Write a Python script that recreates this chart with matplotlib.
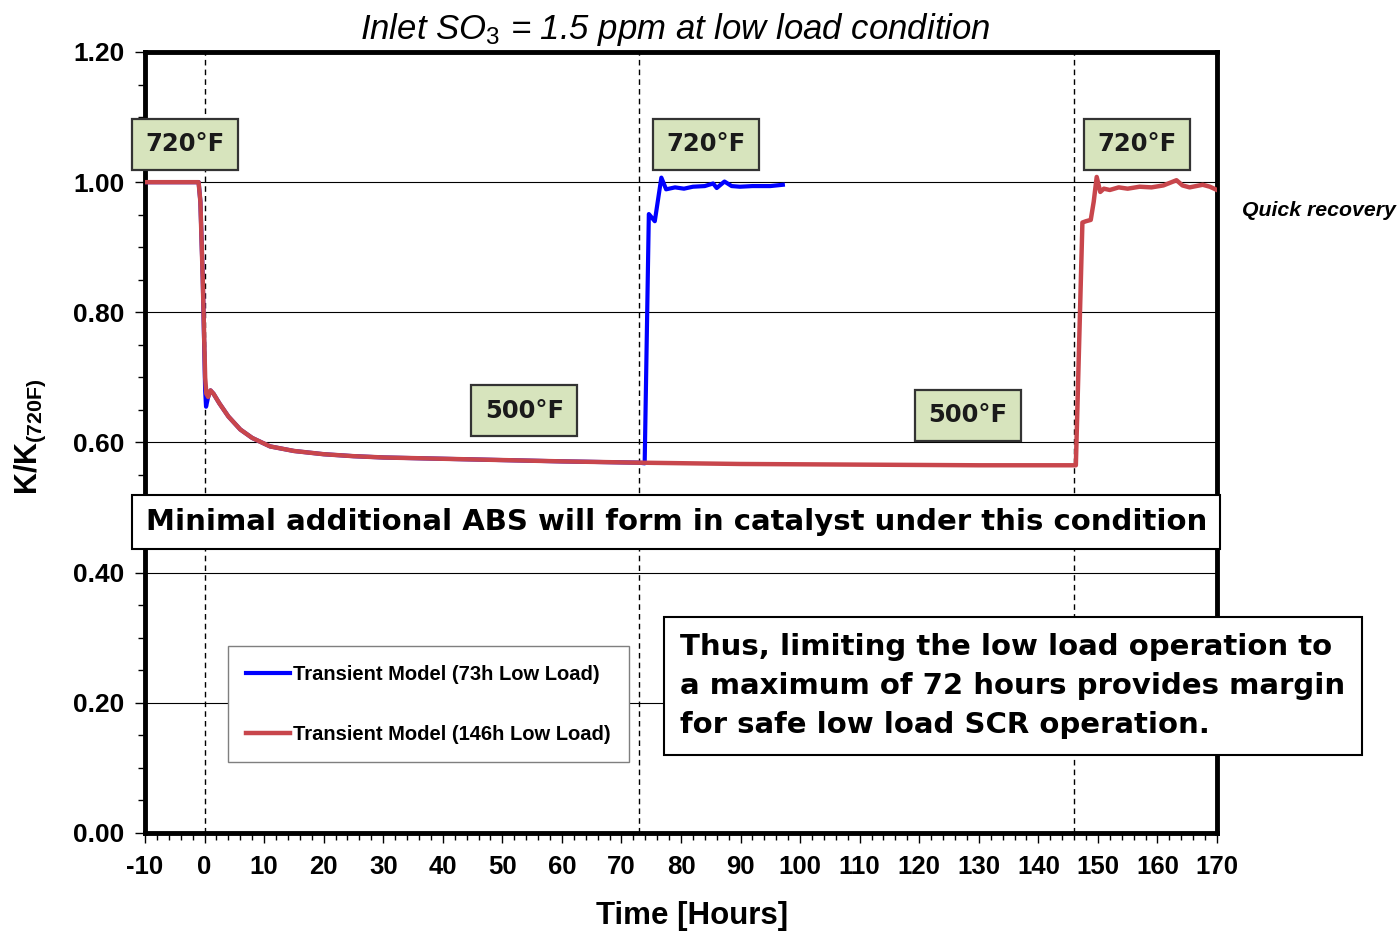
import matplotlib

matplotlib.use("Agg")
import matplotlib.pyplot as plt
from matplotlib import font_manager
from matplotlib.ticker import MultipleLocator, FormatStrFormatter

# transient model runs, K/K(720F) versus time
t_146h = [-10, -1.0, -0.7, -0.3, 0.1, 0.3, 0.6, 1.0, 1.5, 2.5, 4, 6, 8, 11, 15, 20, 25, 30, 40,
          50, 60, 73, 90, 110, 130, 146.3, 147.4, 148.0, 148.8, 149.3, 149.8, 150.4, 151, 152,
          153.5, 155, 157, 159, 161, 163.2, 164.2, 165.4, 166.5, 167.6, 168.8, 170]
k_146h = [1.000, 1.000, 0.97, 0.85, 0.70, 0.675, 0.670, 0.680, 0.675, 0.660, 0.640, 0.620, 0.607,
          0.594, 0.587, 0.582, 0.579, 0.577, 0.575, 0.573, 0.571, 0.569, 0.567, 0.566, 0.565,
          0.565, 0.938, 0.940, 0.942, 0.970, 1.008, 0.985, 0.990, 0.988, 0.992, 0.990, 0.993,
          0.992, 0.995, 1.003, 0.995, 0.992, 0.994, 0.996, 0.993, 0.988]

t_73h = [-10, -1.0, -0.7, -0.3, 0.1, 0.25, 0.6, 1.0, 1.5, 2.5, 4, 6, 8, 11, 15, 20, 25, 30, 40,
         50, 60, 73.0, 73.9, 74.6, 75.6, 76.7, 77.5, 79, 80.5, 82, 84, 85.4, 86, 87.3, 88.5,
         89.9, 92, 95, 97.1]
k_73h = [1.000, 1.000, 0.97, 0.85, 0.68, 0.655, 0.670, 0.680, 0.675, 0.660, 0.640, 0.620, 0.607,
         0.594, 0.587, 0.582, 0.579, 0.577, 0.575, 0.573, 0.571, 0.569, 0.568, 0.951, 0.940,
         1.007, 0.989, 0.992, 0.990, 0.993, 0.994, 0.998, 0.991, 1.001, 0.994, 0.993, 0.994,
         0.994, 0.996]

series_labels = ["Transient Model (73h Low Load)", "Transient Model (146h Low Load)"]
switch_times = [0, 73, 146]

temp_labels = ["720\u00b0F", "720\u00b0F", "720\u00b0F", "500\u00b0F", "500\u00b0F"]
temp_x = [-3.3, 84.2, 156.5, 53.7, 128.2]
temp_y = [1.058, 1.058, 1.058, 0.649, 0.642]

BLUE = "#0000FF"
RED = "#C8464C"
BOX_GREEN = "#D7E4BD"

installed = {f.name for f in font_manager.fontManager.ttflist}
NARROW = "Liberation Sans Narrow" if "Liberation Sans Narrow" in installed else "Liberation Sans"

plt.rcParams.update({
    "font.family": "Liberation Sans",
    "axes.unicode_minus": False,
    "mathtext.fontset": "custom",
    "mathtext.rm": "Liberation Sans",
    "mathtext.it": f"{NARROW}:italic",
    "mathtext.bf": "Liberation Sans:bold",
})

fig = plt.figure(figsize=(14, 9.33), dpi=100)
ax = fig.add_axes([145 / 1400, 100 / 933, 1072 / 1400, 781 / 933])

ax.plot(t_73h, k_73h, color=BLUE, lw=3.0, label=series_labels[0], zorder=3)
ax.plot(t_146h, k_146h, color=RED, lw=3.2, label=series_labels[1], zorder=3.1)

for t in switch_times:
    ax.axvline(t, color="black", lw=1.0, ls=(0, (4, 3)), zorder=2)

ax.set_xlim(-10, 170)
ax.set_ylim(0, 1.2)
ax.xaxis.set_major_locator(MultipleLocator(10))
ax.xaxis.set_minor_locator(MultipleLocator(2))
ax.yaxis.set_major_locator(MultipleLocator(0.2))
ax.yaxis.set_minor_locator(MultipleLocator(0.05))
ax.yaxis.set_major_formatter(FormatStrFormatter("%.2f"))
ax.grid(axis="y", which="major", color="black", lw=0.8)
ax.set_axisbelow(True)

for side in ("left", "right", "top", "bottom"):
    ax.spines[side].set_linewidth(3.5)
ax.tick_params(axis="both", which="both", direction="out", width=1.0, color="black")
ax.tick_params(axis="y", which="major", length=7, pad=8, labelsize=19)
ax.tick_params(axis="y", which="minor", length=5)
ax.tick_params(axis="x", which="major", length=7, pad=9, labelsize=18.5)
ax.tick_params(axis="x", which="minor", length=5)
for lbl in ax.get_yticklabels():
    lbl.set_fontweight("bold")
for lbl in ax.get_xticklabels():
    lbl.set_fontweight("bold")
    lbl.set_family(NARROW)

# temperature tags
for label, x, y in zip(temp_labels, temp_x, temp_y):
    ax.text(x, y, label, ha="center", va="center", fontsize=17.5, family="DejaVu Sans",
            fontweight="bold", color="#1a1a1a", zorder=5,
            bbox=dict(boxstyle="square,pad=0.55", fc=BOX_GREEN, ec="#333333", lw=1.6))

ax.text(79.2, 0.478, "Minimal additional ABS will form in catalyst under this condition",
        ha="center", va="center", fontsize=21, family="DejaVu Sans", fontweight="bold",
        zorder=6, clip_on=False,
        bbox=dict(boxstyle="square,pad=0.45", fc="white", ec="black", lw=1.5))

ax.text(79.9, 0.226,
        "Thus, limiting the low load operation to\n"
        "a maximum of 72 hours provides margin\n"
        "for safe low load SCR operation.",
        ha="left", va="center", fontsize=21, family="DejaVu Sans", fontweight="bold",
        linespacing=1.5, zorder=6, clip_on=False,
        bbox=dict(boxstyle="square,pad=0.55", fc="white", ec="black", lw=1.5))

ax.text(174.2, 0.957, "Quick recovery", ha="left", va="center", fontsize=15.3,
        fontweight="bold", style="italic", clip_on=False)

leg = ax.legend(loc="lower left", bbox_to_anchor=(0.0774, 0.0909), borderaxespad=0,
                prop={"size": 14.5, "weight": "bold"}, handlelength=2.2, handletextpad=0.15,
                labelspacing=2.05, borderpad=0.9, fancybox=False, framealpha=1,
                edgecolor="#7f7f7f")
leg.get_frame().set_linewidth(1.0)
leg.set_zorder(7)

fig.text(675 / 1400, 1 - 30 / 933, r"Inlet SO$_3$ = 1.5 ppm at low load condition",
         ha="center", va="center", fontsize=25, family=NARROW, style="italic")
fig.text(692 / 1400, 1 - 916 / 933, "Time [Hours]", ha="center", va="center",
         fontsize=22.5, family=NARROW, fontweight="bold")
fig.text(30 / 1400, 1 - 437 / 933, r"$\mathbf{K/K_{(720F)}}$", ha="center", va="center",
         rotation=90, fontsize=22)

fig.savefig("out.png", dpi=100)
